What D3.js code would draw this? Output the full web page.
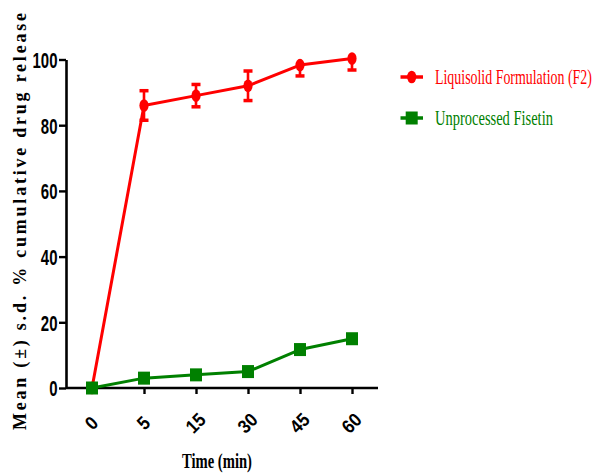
<!DOCTYPE html>
<html><head><meta charset="utf-8">
<script src="https://cdn.jsdelivr.net/npm/d3@7"></script>
<style>body{margin:0;background:#fff}svg{display:block}</style>
</head><body>
<script>
const times = ["0", "5", "15", "30", "45", "60"];
const liquisolid = [0, 86, 89, 92, 98.3, 100.3];
const liquisolidSD = [0, 4.5, 3.4, 4.5, 3.3, 3.5];
const fisetin = [0, 3, 4, 5, 11.7, 15];
const fisetinSD = [0, 0.8, 0.8, 0.8, 1.2, 1.2];
const yTicks = [0, 20, 40, 60, 80, 100];
const seriesNames = ["Liquisolid Formulation (F2)", "Unprocessed Fisetin"];
const colors = ["#ff0000", "#008000"];

const W = 595, H = 473;
const svg = d3.select("body").append("svg").attr("width", W).attr("height", H);

const x = d3.scalePoint().domain(times).range([66, 378]).padding(0.5);
const y = d3.scaleLinear().domain([0, 100]).range([388, 59.5]);

// Y axis
const ya = svg.append("g").attr("transform", "translate(66,0)")
  .call(d3.axisLeft(y).tickValues(yTicks).tickSize(7).tickSizeOuter(0));
ya.select(".domain").attr("stroke", "#000").attr("stroke-width", 2.6);
ya.selectAll(".tick line").attr("stroke", "#000").attr("stroke-width", 2.4);
ya.selectAll(".tick text")
  .attr("font-family", "'Liberation Sans', Arial, sans-serif")
  .attr("font-weight", "bold").attr("font-size", 22).attr("fill", "#000")
  .attr("x", -8.5 / 0.68).attr("dy", "0.36em")
  .attr("transform", "scale(0.68,1)");

// X axis
const xa = svg.append("g").attr("transform", "translate(0,388)")
  .call(d3.axisBottom(x).tickSize(6).tickSizeOuter(0));
xa.select(".domain").attr("stroke", "#000").attr("stroke-width", 2.6)
  .attr("d", "M66,0H378");
xa.selectAll(".tick line").attr("stroke", "#000").attr("stroke-width", 2.4);
xa.selectAll(".tick text")
  .attr("font-family", "'Liberation Sans', Arial, sans-serif")
  .attr("font-weight", "bold").attr("font-size", 19).attr("fill", "#000")
  .attr("y", 0).attr("dy", "0.35em").attr("text-anchor", "middle")
  .attr("transform", "translate(-1,35) rotate(-45) scale(0.9,1)");

// Axis titles
svg.append("text")
  .attr("transform", "translate(25.5,221.5) rotate(-90)")
  .attr("text-anchor", "middle")
  .attr("font-family", "'Liberation Serif', 'Times New Roman', serif")
  .attr("font-weight", "bold").attr("font-size", 18)
  .attr("textLength", 417).attr("lengthAdjust", "spacing")
  .text("Mean (±) s.d. % cumulative drug release");

function fitText(sel, width) {
  const w = sel.node().getComputedTextLength();
  return width / w;
}

const xt = svg.append("text")
  .attr("text-anchor", "middle")
  .attr("font-family", "'Liberation Serif', 'Times New Roman', serif")
  .attr("font-weight", "bold").attr("font-size", 20)
  .text("Time (min)");
xt.attr("transform", `translate(217,468) scale(${fitText(xt, 70)},1)`);

const line = d3.line().x((d, i) => x(times[i])).y(d => y(d));

function drawSeries(vals, sds, color, marker) {
  const g = svg.append("g");
  // error bars (clipped at the axis maximum)
  vals.forEach((v, i) => {
    if (!sds[i]) return;
    const cx = x(times[i]);
    const hi = Math.min(v + sds[i], 100), lo = v - sds[i];
    g.append("line").attr("x1", cx).attr("x2", cx)
      .attr("y1", y(hi)).attr("y2", y(lo))
      .attr("stroke", color).attr("stroke-width", 2.6);
    const caps = [lo];
    if (v + sds[i] <= 100) caps.push(v + sds[i]);
    caps.forEach(e => {
      g.append("line").attr("x1", cx - 4.5).attr("x2", cx + 4.5)
        .attr("y1", y(e)).attr("y2", y(e))
        .attr("stroke", color).attr("stroke-width", 3.5);
    });
  });
  g.append("path").datum(vals).attr("d", line)
    .attr("fill", "none").attr("stroke", color).attr("stroke-width", 3)
    .attr("stroke-linejoin", "round");
  vals.forEach((v, i) => {
    const cx = x(times[i]), cy = y(v);
    if (marker === "circle") {
      g.append("ellipse").attr("cx", cx).attr("cy", cy).attr("rx", 4.6).attr("ry", 6.3).attr("fill", color);
    } else {
      g.append("rect").attr("x", cx - 6).attr("y", cy - 6.5).attr("width", 12).attr("height", 13).attr("fill", color);
    }
  });
}

drawSeries(liquisolid, liquisolidSD, colors[0], "circle");
drawSeries(fisetin, fisetinSD, colors[1], "square");

// Legend
const legendY = [77, 118];
const legendW = [157, 118];
seriesNames.forEach((name, i) => {
  const g = svg.append("g").attr("transform", `translate(0,${legendY[i]})`);
  g.append("line").attr("x1", 400.5).attr("x2", 423).attr("y1", 0).attr("y2", 0)
    .attr("stroke", colors[i]).attr("stroke-width", 3.5);
  if (i === 0) g.append("ellipse").attr("cx", 411.7).attr("cy", 0).attr("rx", 4.6).attr("ry", 6.3).attr("fill", colors[i]);
  else g.append("rect").attr("x", 405.7).attr("y", -6.5).attr("width", 12).attr("height", 13).attr("fill", colors[i]);
  const t = g.append("text").attr("dy", "0.35em")
    .attr("font-family", "'Liberation Serif', 'Times New Roman', serif")
    .attr("font-size", 21).attr("fill", colors[i])
    .text(name);
  t.attr("transform", `translate(435,0) scale(${fitText(t, legendW[i])},1)`);
});
</script>
</body></html>
